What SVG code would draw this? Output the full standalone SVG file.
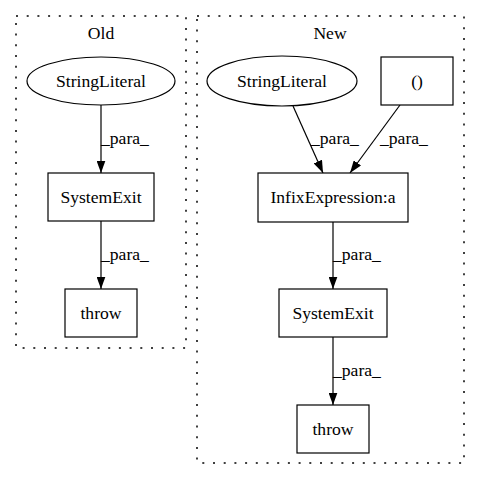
<svg xmlns="http://www.w3.org/2000/svg" width="480" height="480" viewBox="0 0 480 480">
<defs>
<style>
.cluster{fill:none;stroke:#000;stroke-width:1.5;stroke-dasharray:2,8.7}
.node{fill:#fff;stroke:#000;stroke-width:1.2}
.t{font-family:"Liberation Serif","Times New Roman",serif;font-size:17.6px;fill:#000}
.c{text-anchor:middle}
.edge{fill:none;stroke:#000;stroke-width:1.2}
</style>
<marker id="arr" viewBox="0 0 12.5 9" refX="12.5" refY="4.5" markerWidth="12.5" markerHeight="9" markerUnits="userSpaceOnUse" orient="auto">
<path d="M0,0 L12.5,4.5 L0,9 z" fill="#000"/>
</marker>
</defs>
<rect width="480" height="480" fill="#fff"/>
<g id="cluster_old">
<rect class="cluster" x="16" y="16" width="170" height="332"/>
<text class="t c" x="101" y="39">Old</text>
</g>
<g id="cluster_new">
<rect class="cluster" x="197" y="16" width="267" height="447"/>
<text class="t c" x="330" y="39">New</text>
</g>
<g id="connectors">
<line class="edge" x1="101" y1="105" x2="101" y2="173" marker-end="url(#arr)"/>
<text class="t" x="101" y="144">_para_</text>
<line class="edge" x1="101" y1="221" x2="101" y2="289" marker-end="url(#arr)"/>
<text class="t" x="101" y="260">_para_</text>
<line class="edge" x1="293" y1="106" x2="323" y2="173" marker-end="url(#arr)"/>
<text class="t" x="311" y="144">_para_</text>
<line class="edge" x1="400" y1="105" x2="350" y2="173" marker-end="url(#arr)"/>
<text class="t" x="380" y="144">_para_</text>
<line class="edge" x1="333" y1="222" x2="333" y2="289" marker-end="url(#arr)"/>
<text class="t" x="333" y="260">_para_</text>
<line class="edge" x1="333" y1="337" x2="333" y2="405" marker-end="url(#arr)"/>
<text class="t" x="333" y="376">_para_</text>
</g>
<g id="old_stringliteral">
<ellipse class="node" cx="101" cy="81" rx="74" ry="24"/>
<text class="t c" x="101" y="87">StringLiteral</text>
</g>
<g id="old_systemexit">
<rect class="node" x="48" y="173" width="106" height="48"/>
<text class="t c" x="101" y="203">SystemExit</text>
</g>
<g id="old_throw">
<rect class="node" x="65" y="289" width="72" height="48"/>
<text class="t c" x="101" y="319">throw</text>
</g>
<g id="new_stringliteral">
<ellipse class="node" cx="282" cy="81" rx="75" ry="25"/>
<text class="t c" x="282" y="87">StringLiteral</text>
</g>
<g id="new_paren">
<rect class="node" x="381" y="57" width="72" height="48"/>
<text class="t c" x="417" y="87">()</text>
</g>
<g id="new_infix">
<rect class="node" x="258" y="173" width="150" height="49"/>
<text class="t c" x="333" y="203">InfixExpression:a</text>
</g>
<g id="new_systemexit">
<rect class="node" x="279" y="289" width="108" height="48"/>
<text class="t c" x="333" y="319">SystemExit</text>
</g>
<g id="new_throw">
<rect class="node" x="297" y="405" width="72" height="48"/>
<text class="t c" x="333" y="435">throw</text>
</g>
</svg>
